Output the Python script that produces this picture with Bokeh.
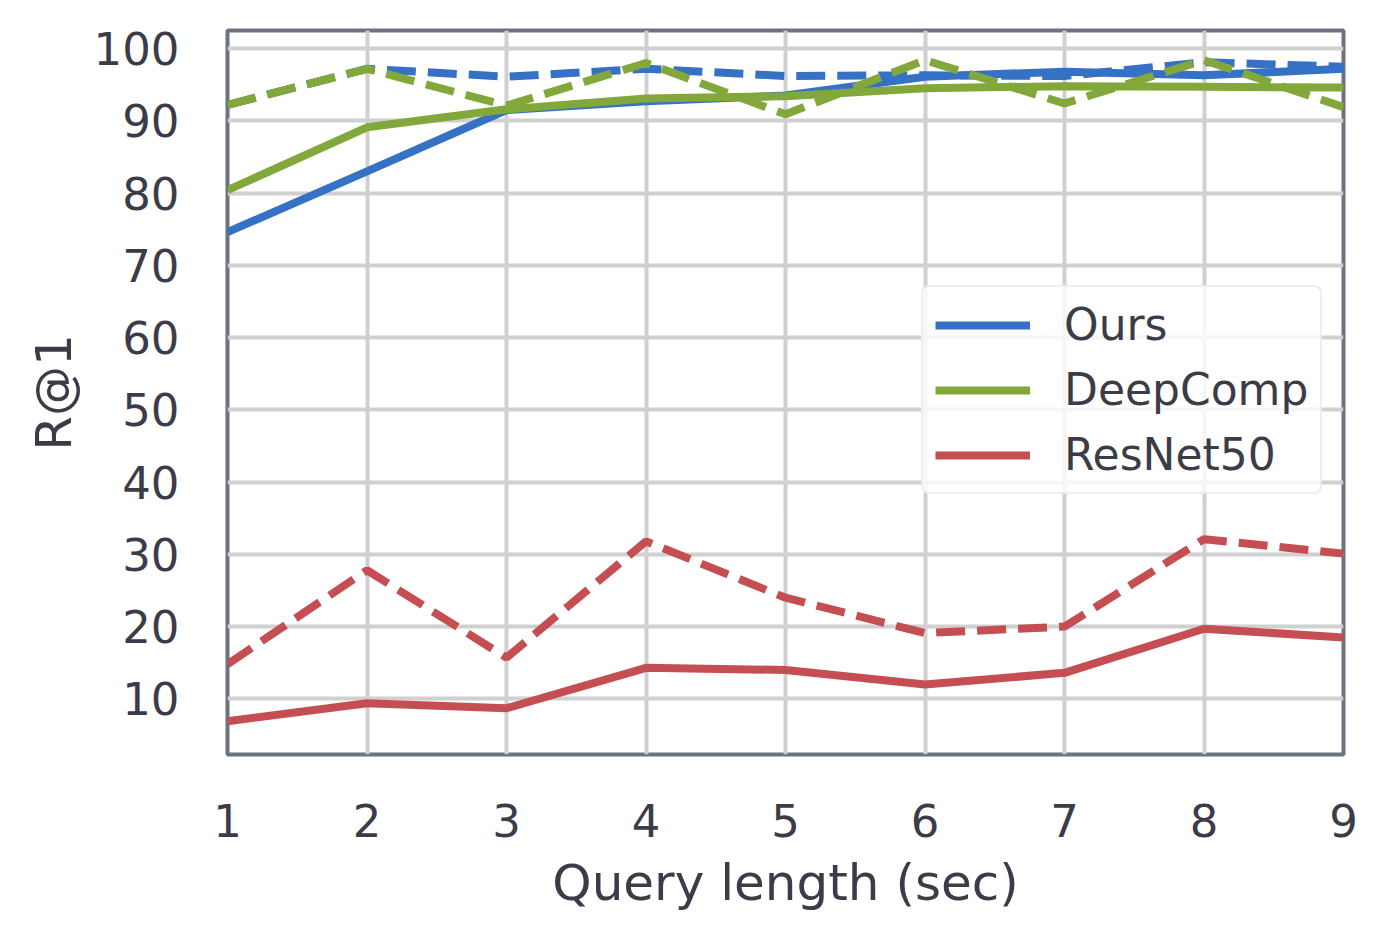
from bokeh.plotting import figure
from bokeh.models import Range1d, FixedTicker, Legend, LegendItem
from bokeh.embed import file_html
from bokeh.resources import INLINE

x = [1, 2, 3, 4, 5, 6, 7, 8, 9]
ours_solid = [74.6, 83.0, 91.5, 92.7, 93.5, 96.1, 96.8, 96.3, 97.2]
ours_dashed = [92.2, 97.2, 96.1, 97.2, 96.2, 96.3, 96.2, 98.1, 97.5]
deep_solid = [80.4, 89.1, 91.6, 93.1, 93.4, 94.5, 94.8, 94.7, 94.6]
deep_dashed = [92.2, 97.2, 92.1, 98.0, 90.9, 98.4, 92.4, 98.4, 91.9]
res_solid = [6.9, 9.4, 8.7, 14.3, 14.0, 12.0, 13.6, 19.7, 18.5]
res_dashed = [14.8, 27.8, 15.7, 31.8, 24.0, 19.1, 20.0, 32.1, 30.1]

y_ticks = [10, 20, 30, 40, 50, 60, 70, 80, 90, 100]
x_ticks = [1, 2, 3, 4, 5, 6, 7, 8, 9]
names = ["Ours", "DeepComp", "ResNet50"]

BLUE = "#3572c6"
GREEN = "#82a83c"
RED = "#c44e52"
TXT = "#3c3c48"
FONT = "DejaVu Sans"

p = figure(width=1370, height=924, output_backend="svg", toolbar_location=None,
           x_range=Range1d(1, 9), y_range=Range1d(2.3, 102.5),
           min_border_left=227, min_border_right=27, min_border_top=30,
           min_border_bottom=170)

p.background_fill_color = "white"
p.border_fill_color = "white"
p.outline_line_color = "#6b7280"
p.outline_line_width = 4

for ax in (p.xaxis[0], p.yaxis[0]):
    ax.axis_line_color = None
    ax.major_tick_line_color = None
    ax.minor_tick_line_color = None
    ax.major_label_text_font = FONT
    ax.major_label_text_font_size = "45px"
    ax.major_label_text_color = TXT
    ax.axis_label_text_font = FONT
    ax.axis_label_text_font_size = "50px"
    ax.axis_label_text_color = TXT
    ax.axis_label_text_font_style = "normal"

p.xaxis.ticker = FixedTicker(ticks=x_ticks)
p.yaxis.ticker = FixedTicker(ticks=y_ticks)
p.xaxis.major_label_standoff = 43
p.yaxis.major_label_standoff = 42
p.xaxis.axis_label = "Query length (sec)"
p.yaxis.axis_label = "R@1"
p.xaxis.axis_label_standoff = 14
p.yaxis.axis_label_standoff = 8

p.grid.grid_line_color = "#d0d0d0"
p.grid.grid_line_width = 4
p.xgrid.ticker = FixedTicker(ticks=x_ticks)
p.ygrid.ticker = FixedTicker(ticks=y_ticks)

LW = 8
DASH = "29 12"
r_os = p.line(x, ours_solid, line_color=BLUE, line_width=LW)
p.line(x, ours_dashed, line_color=BLUE, line_width=LW, line_dash=DASH)
r_ds = p.line(x, deep_solid, line_color=GREEN, line_width=LW)
p.line(x, deep_dashed, line_color=GREEN, line_width=LW, line_dash=DASH)
r_rs = p.line(x, res_solid, line_color=RED, line_width=LW)
p.line(x, res_dashed, line_color=RED, line_width=LW, line_dash=DASH)

legend = Legend(items=[LegendItem(label=names[0], renderers=[r_os]),
                       LegendItem(label=names[1], renderers=[r_ds]),
                       LegendItem(label=names[2], renderers=[r_rs])],
                location=(694, 260))
legend.label_text_font = FONT
legend.label_text_font_size = "44px"
legend.label_text_color = TXT
legend.glyph_width = 95
legend.glyph_height = 44
legend.label_height = 44
legend.label_standoff = 34
legend.spacing = 14
legend.padding = 12
legend.margin = 0
legend.border_line_color = "#dddddd"
legend.border_line_width = 2
legend.border_radius = 8
legend.background_fill_color = "white"
legend.background_fill_alpha = 0.8
p.add_layout(legend, "center")

open("out.html", "w").write(file_html(p, INLINE))
